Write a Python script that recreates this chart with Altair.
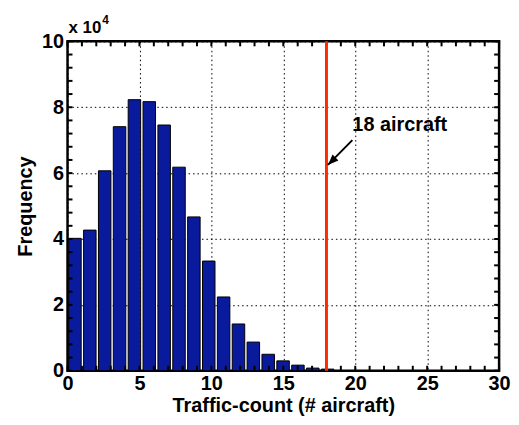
import altair as alt
import pandas as pd

# ---------------- data ----------------
bin_width = 31 / 30
counts = [40200, 42700, 60700, 74100, 82300, 81700, 74600, 61800, 46700, 33300,
          22400, 14200, 8700, 5000, 3000, 1700, 800, 500]
x_major = [0, 5, 10, 15, 20, 25, 30]
y_major = [0, 20000, 40000, 60000, 80000, 100000]
x_minor = list(range(0, 31))
y_minor = list(range(0, 100001, 4000))
threshold = [18]
annot_label = ["18 aircraft"]
annot_x = [19.8]
annot_y = [72700]
arrow_x = [19.8]
arrow_y = [70000]
arrow_x2 = [18.1]
arrow_y2 = [62500]

FONT = "Liberation Sans"
BAR = "#0A1A9C"
RED = "#FF2A00"
W, H = 435, 332
TL = 5  # tick length

df = pd.DataFrame({"bin": list(range(len(counts))), "count": counts})
df["x0"] = (df["bin"] + 0.08) * bin_width
df["x1"] = (df["bin"] + 0.92) * bin_width

xs = alt.Scale(domain=[0, 30], nice=False, zero=False)
ys = alt.Scale(domain=[0, 100000], nice=False, zero=False)

main_x = alt.Axis(values=x_major, title="Traffic-count (# aircraft)", grid=True,
                  gridColor="black", gridDash=[1.5, 3], gridWidth=1, ticks=False, domain=False,
                  labelFont=FONT, labelFontSize=20, labelFontWeight="bold", labelColor="black",
                  labelPadding=3, labelFlush=False, titleFont=FONT, titleFontSize=20,
                  titleFontWeight="bold", titleColor="black", titlePadding=2)
main_y = alt.Axis(values=y_major, labelExpr="datum.value / 10000", title="Frequency", grid=True,
                  gridColor="black", gridDash=[1.5, 3], gridWidth=1, ticks=False, domain=False,
                  labelFont=FONT, labelFontSize=20, labelFontWeight="bold", labelColor="black",
                  labelPadding=4, labelFlush=False, titleFont=FONT, titleFontSize=20,
                  titleFontWeight="bold", titleColor="black", titlePadding=6)


def X(field):
    return alt.X(field, scale=xs, axis=main_x)


def Y(field):
    return alt.Y(field, scale=ys, axis=main_y)


bars = alt.Chart(df).mark_bar(color=BAR, stroke="black", strokeWidth=1).encode(
    x=X("x0:Q"),
    x2="x1:Q",
    y=Y("count:Q"),
    y2=alt.datum(0),
)

# inward minor ticks on all four sides (positions from the tick arrays)
xt = pd.DataFrame({"v": x_minor})
yt = pd.DataFrame({"v": y_minor})
tick_style = dict(color="black", thickness=2, size=TL, opacity=1)
ticks_top = alt.Chart(xt).mark_tick(**tick_style).encode(x=X("v:Q"), y=alt.value(TL / 2))
ticks_bottom = alt.Chart(xt).mark_tick(**tick_style).encode(x=X("v:Q"), y=alt.value(H - TL / 2))
ticks_left = alt.Chart(yt).mark_tick(**tick_style).encode(y=Y("v:Q"), x=alt.value(TL / 2))
ticks_right = alt.Chart(yt).mark_tick(**tick_style).encode(y=Y("v:Q"), x=alt.value(W - TL / 2))

rule = alt.Chart(pd.DataFrame({"t": threshold})).mark_rule(color=RED, strokeWidth=3).encode(
    x=X("t:Q")
)

arrow_df = pd.DataFrame({"x": arrow_x, "y": arrow_y, "x2": arrow_x2, "y2": arrow_y2})
arrow_line = alt.Chart(arrow_df).mark_rule(color="black", strokeWidth=2).encode(
    x=X("x:Q"), y=Y("y:Q"), x2="x2:Q", y2="y2:Q",
)
arrow_head = alt.Chart(arrow_df).mark_point(
    shape="M0,0 L0.4,1 L-0.4,1 Z", filled=True, color="black", opacity=1, size=450, angle=226
).encode(x=X("x2:Q"), y=Y("y2:Q"))

annot_df = pd.DataFrame({"x": annot_x, "y": annot_y, "label": annot_label})
annot = alt.Chart(annot_df).mark_text(
    align="left", baseline="alphabetic", font=FONT, fontSize=20, fontWeight="bold", color="black"
).encode(x=X("x:Q"), y=Y("y:Q"), text="label:N")

exp_base = alt.Chart(pd.DataFrame({"t": ["x 10"]})).mark_text(
    align="left", baseline="alphabetic", font=FONT, fontSize=17, fontWeight="bold", color="black"
).encode(text="t:N", x=alt.value(1), y=alt.value(-8))
exp_pow = alt.Chart(pd.DataFrame({"t": ["4"]})).mark_text(
    align="left", baseline="alphabetic", font=FONT, fontSize=12, fontWeight="bold", color="black"
).encode(text="t:N", x=alt.value(35), y=alt.value(-17))

chart = alt.layer(
    bars, ticks_top, ticks_bottom, ticks_left, ticks_right,
    rule, arrow_line, arrow_head, annot, exp_base, exp_pow
).properties(
    width=W, height=H,
    padding={"left": 60, "top": 32, "right": 12, "bottom": 45},
    autosize=alt.AutoSizeParams(type="none"),
    background="white",
).configure_view(stroke="black", strokeWidth=2.5)

chart.save("out.html", embed_options={"renderer": "svg", "actions": False})
